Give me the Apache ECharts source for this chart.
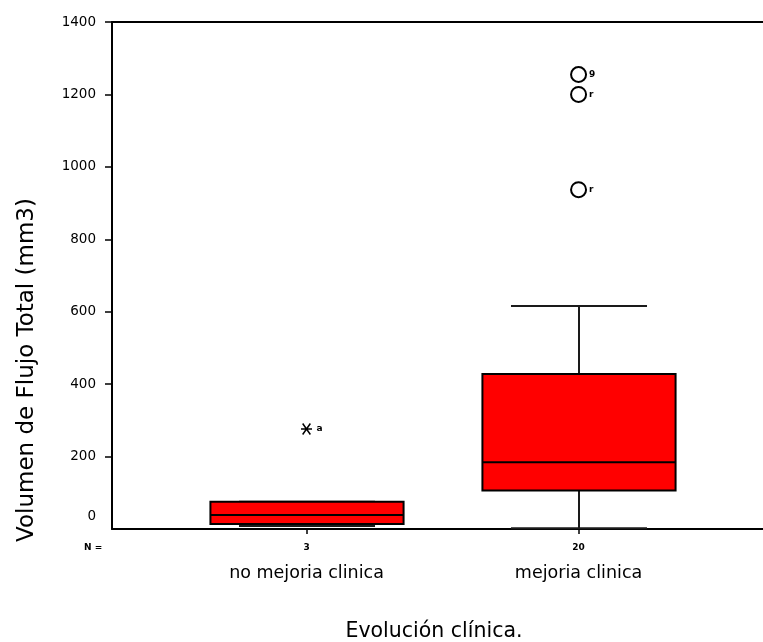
<!DOCTYPE html>
<html>
<head>
<meta charset="utf-8">
<script src="https://cdn.jsdelivr.net/npm/echarts@6/dist/echarts.min.js"></script>
<style>
  html, body { margin: 0; padding: 0; background: #fff; }
  #chart { width: 763px; height: 642px; }
</style>
</head>
<body>
<div id="chart"></div>
<script>
// Groups on the horizontal axis and their case counts
const categories = ['no mejoria clinica', 'mejoria clinica'];
const caseCounts = ['3', '20'];
// Five-number summary per group: [min, Q1, median, Q3, max]
const boxStats = [
  [8, 14, 39, 75, 75],
  [2, 106, 184, 428, 616]
];
// Outliers (circles) of the second group, with their case tags
const outlierValues = [1255, 1200, 937];
const outlierTags = ['9', 'r', 'r'];
// Extreme value (asterisk) of the first group
const extremeValues = [276];
const extremeTags = ['a'];
// Vertical axis ticks
const yTicks = [0, 200, 400, 600, 800, 1000, 1200, 1400];

const FONT = 'DejaVu Sans';
const chart = echarts.init(document.getElementById('chart'), null, { renderer: 'canvas' });

const boxData = boxStats.map((s, i) => [i + 1].concat(s));
const outlierData = outlierValues.map(v => [2, v]);
const extremeData = extremeValues.map(v => [1, v]);

function renderBox(params, api) {
  const x = api.value(0);
  const pMin = api.coord([x, api.value(1)]);
  const pQ1 = api.coord([x, api.value(2)]);
  const pMed = api.coord([x, api.value(3)]);
  const pQ3 = api.coord([x, api.value(4)]);
  const pMax = api.coord([x, api.value(5)]);
  const boxW = api.size([0.71, 0])[0];
  const capW = api.size([0.5, 0])[0];
  const cx = Math.round(pMed[0]);
  const whisker = { stroke: '#1a1a1a', lineWidth: 2 };
  return {
    type: 'group',
    children: [
      { type: 'line', shape: { x1: cx, y1: pQ3[1], x2: cx, y2: pMax[1] }, style: whisker },
      { type: 'line', shape: { x1: cx, y1: pQ1[1], x2: cx, y2: pMin[1] }, style: whisker },
      { type: 'line', shape: { x1: cx - capW / 2, y1: pMax[1], x2: cx + capW / 2, y2: pMax[1] }, style: whisker },
      { type: 'line', shape: { x1: cx - capW / 2, y1: pMin[1], x2: cx + capW / 2, y2: pMin[1] }, style: whisker },
      {
        type: 'rect',
        shape: { x: cx - boxW / 2, y: pQ3[1], width: boxW, height: pQ1[1] - pQ3[1] },
        style: { fill: '#ff0000', stroke: '#000', lineWidth: 2 }
      },
      { type: 'line', shape: { x1: cx - boxW / 2, y1: pMed[1], x2: cx + boxW / 2, y2: pMed[1] }, style: { stroke: '#000', lineWidth: 2 } }
    ]
  };
}

const option = {
  backgroundColor: '#fff',
  animation: false,
  grid: { left: 112, right: 0, top: 22, bottom: 113 },
  xAxis: [
    {
      type: 'value',
      min: 0.285,
      max: 2.678,
      axisLine: { show: true, lineStyle: { color: '#000', width: 2 } },
      axisTick: { show: true, customValues: [1, 2], length: 5, lineStyle: { color: '#000', width: 1.5 } },
      splitLine: { show: false },
      axisLabel: {
        customValues: [1, 2],
        margin: 12,
        color: '#000',
        formatter: v => {
          const i = Math.round(v) - 1;
          return '{n|' + caseCounts[i] + '}\n{c|' + categories[i] + '}';
        },
        rich: {
          n: { fontFamily: FONT, fontSize: 9, fontWeight: 'bold', color: '#000', lineHeight: 14 },
          c: { fontFamily: FONT, fontSize: 17.5, color: '#000', lineHeight: 36 }
        }
      }
    },
    {
      type: 'value',
      position: 'top',
      min: 0.285,
      max: 2.678,
      axisLine: { show: true, lineStyle: { color: '#000', width: 2 } },
      axisTick: { show: false },
      axisLabel: { show: false },
      splitLine: { show: false }
    }
  ],
  yAxis: {
    type: 'value',
    min: 0,
    max: 1400,
    interval: 200,
    axisLine: { show: true, lineStyle: { color: '#000', width: 2 } },
    axisTick: { show: true, length: 7, customValues: yTicks.slice(1), lineStyle: { color: '#000', width: 1.5 } },
    splitLine: { show: false },
    axisLabel: {
      customValues: yTicks,
      margin: 16,
      color: '#000',
      fontFamily: FONT,
      fontSize: 13.5,
      formatter: v => (v === 0 ? '{z|0}' : String(v)),
      rich: {
        z: { fontFamily: FONT, fontSize: 13.5, color: '#000', padding: [0, 0, 26, 0] }
      }
    }
  },
  graphic: [
    {
      type: 'text', x: 27, y: 370, rotation: Math.PI / 2,
      style: { text: 'Volumen de Flujo Total (mm3)', fontFamily: FONT, fontSize: 23, fill: '#000', align: 'center', verticalAlign: 'middle' }
    },
    {
      type: 'text', x: 434, y: 632,
      style: { text: 'Evolución clínica.', fontFamily: FONT, fontSize: 20.5, fill: '#000', align: 'center', verticalAlign: 'middle' }
    },
    {
      type: 'text', x: 84, y: 548,
      style: { text: 'N =', fontFamily: FONT, fontSize: 9, fontWeight: 'bold', fill: '#000', align: 'left', verticalAlign: 'middle' }
    }
  ],
  series: [
    {
      type: 'custom',
      xAxisIndex: 0,
      renderItem: renderBox,
      encode: { x: 0, y: [1, 2, 3, 4, 5] },
      data: boxData,
      z: 2
    },
    {
      type: 'scatter',
      xAxisIndex: 0,
      data: outlierData,
      symbol: 'circle',
      symbolSize: 15,
      itemStyle: { color: '#fff', borderColor: '#000', borderWidth: 2, opacity: 1 },
      label: {
        show: true, position: 'right', distance: 2,
        formatter: p => outlierTags[p.dataIndex],
        fontFamily: FONT, fontSize: 9, fontWeight: 'bold', color: '#000'
      },
      z: 3
    },
    {
      type: 'scatter',
      xAxisIndex: 0,
      data: extremeData,
      symbol: 'path://M0,5 L10,5 M1.5,1.5 L8.5,8.5 M1.5,8.5 L8.5,1.5',
      symbolSize: 11,
      itemStyle: { color: 'none', borderColor: '#000', borderWidth: 1.5, opacity: 1 },
      label: {
        show: true, position: 'right', distance: 2,
        formatter: p => extremeTags[p.dataIndex],
        fontFamily: FONT, fontSize: 9, fontWeight: 'bold', color: '#000'
      },
      z: 3
    }
  ]
};

chart.setOption(option);
</script>
</body>
</html>
